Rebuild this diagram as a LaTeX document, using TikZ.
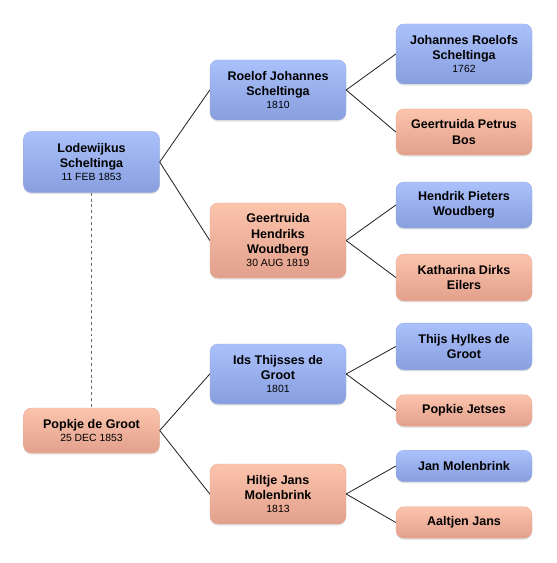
\documentclass[tikz,border=0pt]{standalone}
\usepackage{fontspec}
\setmainfont{Liberation Sans}
\usetikzlibrary{shadows}
\definecolor{bluetop}{RGB}{170,193,252}
\definecolor{bluebot}{RGB}{136,158,222}
\definecolor{salmtop}{RGB}{252,196,172}
\definecolor{salmbot}{RGB}{226,160,140}
\definecolor{linegray}{RGB}{30,30,30}
\newcommand\dte[1]{\\[-1.2pt]{\mdseries\fontsize{7.8}{9}\selectfont #1}}
\tikzset{
  person/.style={rounded corners=6pt, minimum width=102pt, inner sep=2pt,
    align=center, font=\bfseries\fontsize{9.4}{11.4}\selectfont,
    drop shadow={opacity=0.22, shadow xshift=0pt, shadow yshift=-1.2pt}},
  male/.style={person, top color=bluetop, bottom color=bluebot, draw=bluebot!90!white, line width=0.3pt},
  female/.style={person, top color=salmtop, bottom color=salmbot, draw=salmbot!90!white, line width=0.3pt},
  link/.style={draw=linegray, line width=0.6pt},
  marriage/.style={draw=gray!85!black, line width=1.1pt, dash pattern=on 2.2pt off 2.2pt}
}
\begin{document}
\begin{tikzpicture}[x=0.75pt, y=-0.75pt]
\useasboundingbox (0,0) rectangle (556,563);
% left column
\node[male, minimum height=45.75pt] (lod) at (91.5,162) {Lodewijkus\\Scheltinga\dte{11 FEB 1853}};
\node[female, minimum height=33.75pt] (pop) at (91.5,430.5) {Popkje de Groot\dte{25 DEC 1853}};
% middle column
\node[male, minimum height=45pt] (roe) at (278,90) {Roelof Johannes\\Scheltinga\dte{1810}};
\node[female, minimum height=56.25pt] (ger) at (278,240.5) {Geertruida\\Hendriks\\Woudberg\dte{30 AUG 1819}};
\node[male, minimum height=45pt] (ids) at (278,374) {Ids Thijsses de\\Groot\dte{1801}};
\node[female, minimum height=45pt] (hil) at (278,494) {Hiltje Jans\\Molenbrink\dte{1813}};
% right column
\node[male, minimum height=45pt] (joh) at (464,54) {Johannes Roelofs\\Scheltinga\dte{1762}};
\node[female, minimum height=34.5pt] (gpb) at (464,132) {Geertruida Petrus\\Bos};
\node[male, minimum height=34.5pt] (hen) at (464,205) {Hendrik Pieters\\Woudberg};
\node[female, minimum height=35pt] (kat) at (464,277.5) {Katharina Dirks\\Eilers};
\node[male, minimum height=35pt] (thi) at (464,346.5) {Thijs Hylkes de\\Groot};
\node[female, minimum height=23.5pt] (pjt) at (464,410.5) {Popkie Jetses};
\node[male, minimum height=23.5pt] (jan) at (464,466) {Jan Molenbrink};
\node[female, minimum height=23.5pt] (aal) at (464,522.5) {Aaltjen Jans};
% connectors
\draw[marriage] (lod.south) -- (pop.north);
\draw[link] (lod.east) -- (roe.west);
\draw[link] (lod.east) -- (ger.west);
\draw[link] (pop.east) -- (ids.west);
\draw[link] (pop.east) -- (hil.west);
\draw[link] (roe.east) -- (joh.west);
\draw[link] (roe.east) -- (gpb.west);
\draw[link] (ger.east) -- (hen.west);
\draw[link] (ger.east) -- (kat.west);
\draw[link] (ids.east) -- (thi.west);
\draw[link] (ids.east) -- (pjt.west);
\draw[link] (hil.east) -- (jan.west);
\draw[link] (hil.east) -- (aal.west);
\end{tikzpicture}
\end{document}
